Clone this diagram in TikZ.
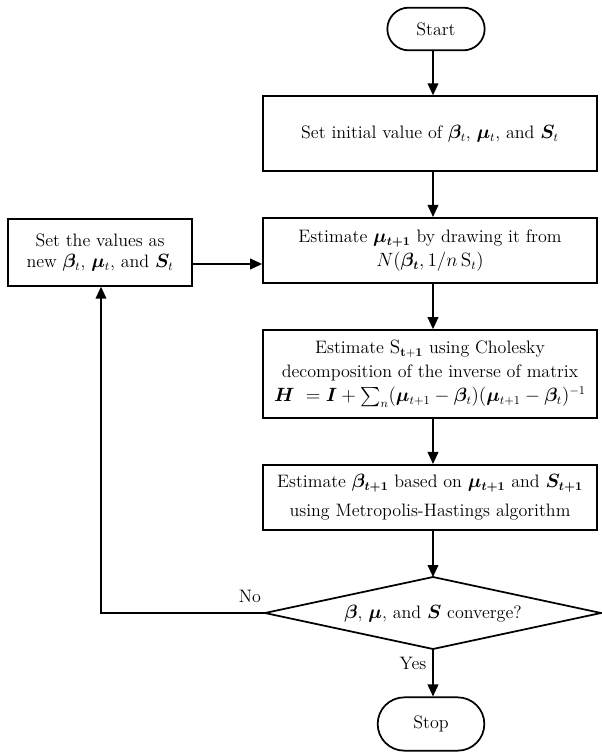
\documentclass[tikz,border=0pt]{standalone}
\usepackage{amsmath,bm}
\usetikzlibrary{arrows.meta,shapes.misc}
\begin{document}
\begin{tikzpicture}[x=0.75pt,y=-0.75pt,
  every node/.style={font=\fontsize{13.5}{18}\selectfont},
  procbox/.style={draw,line width=1.3pt,rectangle,align=center,inner sep=0pt},
  termbox/.style={draw,line width=1.3pt,rounded rectangle,align=center,inner sep=0pt},
  flow/.style={line width=1.3pt,-{Triangle[width=8pt,length=9pt]}},
  lbl/.style={inner sep=1pt}
]
\useasboundingbox (0,0) rectangle (602,753);
\node[termbox,minimum width=73pt,minimum height=32pt] (start) at (436,29) {Start};
\node[procbox,minimum width=250.5pt,minimum height=56pt] (init) at (430,133.5)
  {Set initial value of $\bm{\beta}_t$, $\bm{\mu}_t$, and $\bm{S}_t$};
\node[procbox,minimum width=250.5pt,minimum height=49pt] (mu) at (430,250.5)
  {Estimate $\bm{\mu}_{\bm{t+1}}$ by drawing it from\\ $N(\bm{\beta_t}, 1/n\,\mathrm{S}_t)$};
\node[procbox,minimum width=138pt,minimum height=50pt,font=\fontsize{13.5}{16}\selectfont] (setv) at (100,252.5)
  {Set the values as\\ new $\bm{\beta}_t$, $\bm{\mu}_t$, and $\bm{S}_t$};
\node[procbox,minimum width=250.5pt,minimum height=66pt,font=\fontsize{13.5}{18}\selectfont] (chol) at (430,374)
  {Estimate $\mathrm{S}_{\mathbf{t+1}}$ using Cholesky\\ decomposition of the inverse of matrix\\
   $\bm{H}\ = \bm{I} + \textstyle\sum_n(\bm{\mu}_{t+1} - \bm{\beta}_t)(\bm{\mu}_{t+1} - \bm{\beta}_t)^{-1}$};
\node[procbox,minimum width=250.5pt,minimum height=49pt,font=\fontsize{13.5}{22}\selectfont] (beta) at (430,497.5)
  {Estimate $\bm{\beta}_{\bm{t+1}}$ based on $\bm{\mu}_{\bm{t+1}}$ and $\bm{S}_{\bm{t+1}}$\\ using Metropolis-Hastings algorithm};
% decision diamond
\coordinate (dtop) at (433,577);
\coordinate (dleft) at (265,613);
\coordinate (dright) at (601,613);
\coordinate (dbot) at (433,649);
\draw[line width=1.3pt,line join=miter] (dtop) -- (dright) -- (dbot) -- (dleft) -- cycle;
\node (dec) at (433,614) {$\bm{\beta}$, $\bm{\mu}$, and $\bm{S}$ converge?};
\node[termbox,minimum width=80pt,minimum height=40pt] (stop) at (431,724) {Stop};
\coordinate (corner) at (101,613);
% connectors
\draw[flow] (start.south -| 433,0) -- (init.north -| 433,0);
\draw[flow] (init.south -| 433,0) -- (mu.north -| 433,0);
\draw[flow] (mu.south -| 433,0) -- (chol.north -| 433,0);
\draw[flow] (chol.south -| 433,0) -- (beta.north -| 433,0);
\draw[flow] (beta.south -| 433,0) -- (dtop);
\draw[flow] (dbot) -- (stop.north -| dbot);
\draw[flow] (setv.east |- 0,264) -- (mu.west |- 0,264);
\draw[flow] (dleft) -- (corner) -- (setv.south -| corner);
\node[lbl] (no) at (250,596) {No};
\node[lbl] (yes) at (413,663) {Yes};
\end{tikzpicture}
\end{document}
